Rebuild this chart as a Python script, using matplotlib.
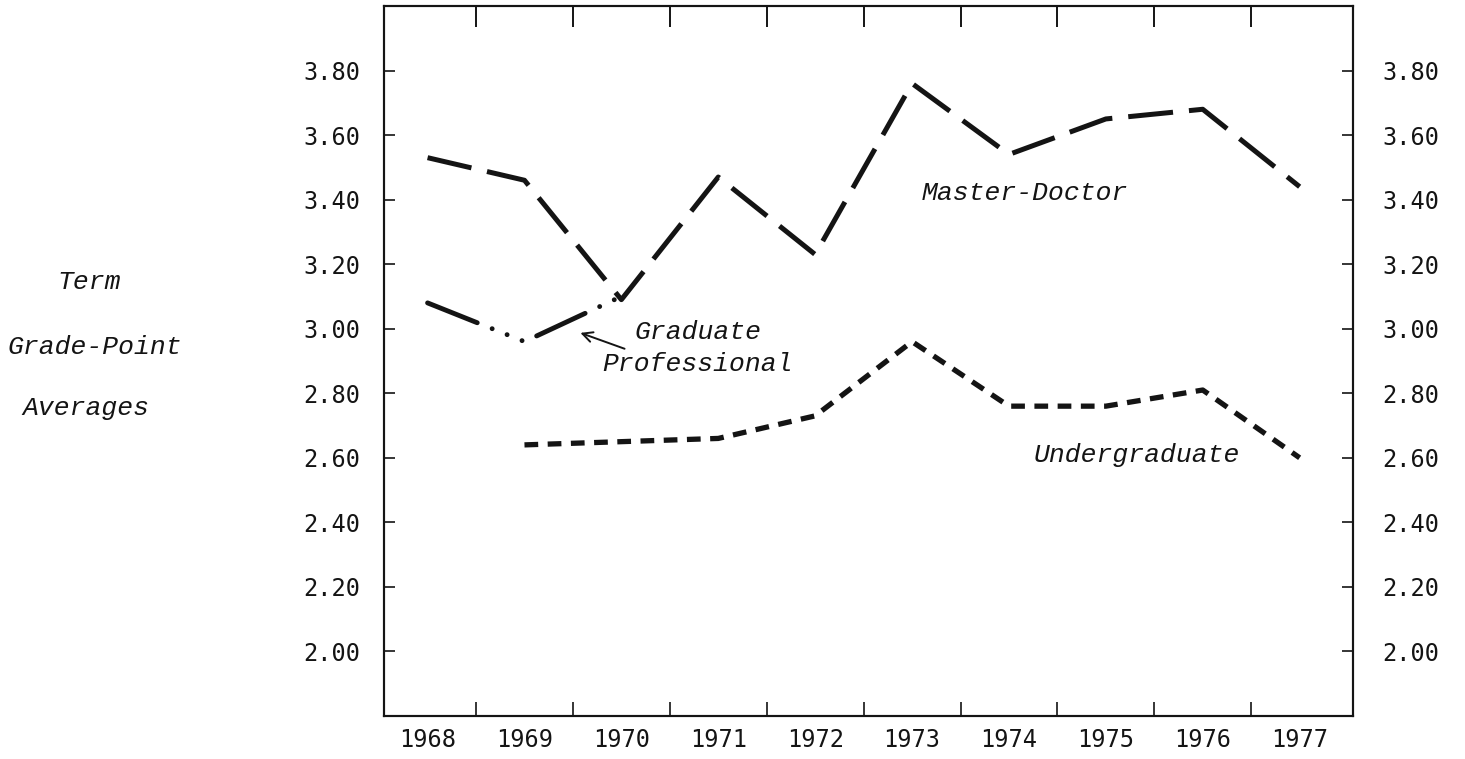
import matplotlib
matplotlib.use("Agg")
import matplotlib.pyplot as plt

years = [1968, 1969, 1970, 1971, 1972, 1973, 1974, 1975, 1976, 1977]
year_labels = [str(y) for y in years]

master_doctor = [3.53, 3.46, 3.09, 3.47, 3.23, 3.76, 3.54, 3.65, 3.68, 3.44]

grad_prof_years = [1968, 1969, 1970]
grad_prof = [3.08, 2.96, 3.10]

undergrad_years = [1969, 1970, 1971, 1972, 1973, 1974, 1975, 1976, 1977]
undergrad = [2.64, 2.65, 2.66, 2.73, 2.96, 2.76, 2.76, 2.81, 2.60]

y_ticks = [2.00, 2.20, 2.40, 2.60, 2.80, 3.00, 3.20, 3.40, 3.60, 3.80]
y_tick_labels = ['%.2f' % v for v in y_ticks]
half_years = [y + 0.5 for y in years[:-1]]

ink = '#141414'
tick_font = dict(family='DejaVu Sans Mono', size=17)
note_font = dict(family='Liberation Mono', style='italic', size=19)

fig = plt.figure(figsize=(14.65, 7.59), dpi=100)
ax = fig.add_axes([0.2621, 0.0567, 0.6614, 0.9354])

# lines
ax.plot(years, master_doctor, color=ink, lw=3.6, dashes=(9, 3.2))
ax.plot(grad_prof_years, grad_prof, color=ink, lw=3.5,
        dashes=(11, 3.3, 0.01, 3.3, 0.01, 3.3, 0.01, 3.3),
        dash_capstyle='round')
ax.plot(undergrad_years, undergrad, color=ink, lw=3.8, dashes=(2.6, 1.8))

ax.set_xlim(1967.55, 1977.55)
ax.set_ylim(1.80, 4.00)

# x ticks between years, year labels centred under the points
ax.set_xticks(half_years)
ax.tick_params(axis='x', which='major', direction='in', length=10,
               width=1.2, color=ink, labelbottom=False, top=False)
ax.set_xticks(years, minor=True)
ax.set_xticklabels(year_labels, minor=True, **tick_font)
ax.tick_params(axis='x', which='minor', length=0, pad=9, labelcolor=ink)

top = ax.secondary_xaxis('top')
top.set_xticks(half_years)
top.tick_params(direction='in', length=15, width=1.4, color=ink, labeltop=False)
top.spines['top'].set_linewidth(1.3)

# left and right y axes
ax.set_yticks(y_ticks)
ax.set_yticklabels(y_tick_labels, **tick_font)
ax.tick_params(axis='y', direction='in', length=8, width=1.2, color=ink,
               pad=17, labelcolor=ink)

ax2 = ax.twinx()
ax2.set_ylim(ax.get_ylim())
ax2.set_yticks(y_ticks)
ax2.set_yticklabels(y_tick_labels, **tick_font)
ax2.tick_params(axis='y', direction='in', length=8, width=1.2, color=ink,
                pad=21, labelcolor=ink)

for a in (ax, ax2):
    for s in a.spines.values():
        s.set_linewidth(1.5)
        s.set_color(ink)

# annotations
ax.text(1973.10, 3.42, 'Master-Doctor', va='center', ha='left', color=ink, **note_font)
ax.text(1974.25, 2.61, 'Undergraduate', va='center', ha='left', color=ink, **note_font)
ax.text(1970.14, 2.99, 'Graduate', va='center', ha='left', color=ink, **note_font)
ax.text(1969.80, 2.89, 'Professional', va='center', ha='left', color=ink, **note_font)
ax.annotate('', xy=(1969.55, 2.99), xytext=(1970.06, 2.935),
            arrowprops=dict(arrowstyle='->', lw=1.4, color=ink, mutation_scale=18))

# y axis title, typed in three lines at the left
fig.text(0.0389, 0.6285, 'Term', ha='left', va='center', color=ink, **note_font)
fig.text(0.0048, 0.5428, 'Grade-Point', ha='left', va='center', color=ink, **note_font)
fig.text(0.0150, 0.4625, 'Averages', ha='left', va='center', color=ink, **note_font)

fig.savefig('out.png', dpi=100)
